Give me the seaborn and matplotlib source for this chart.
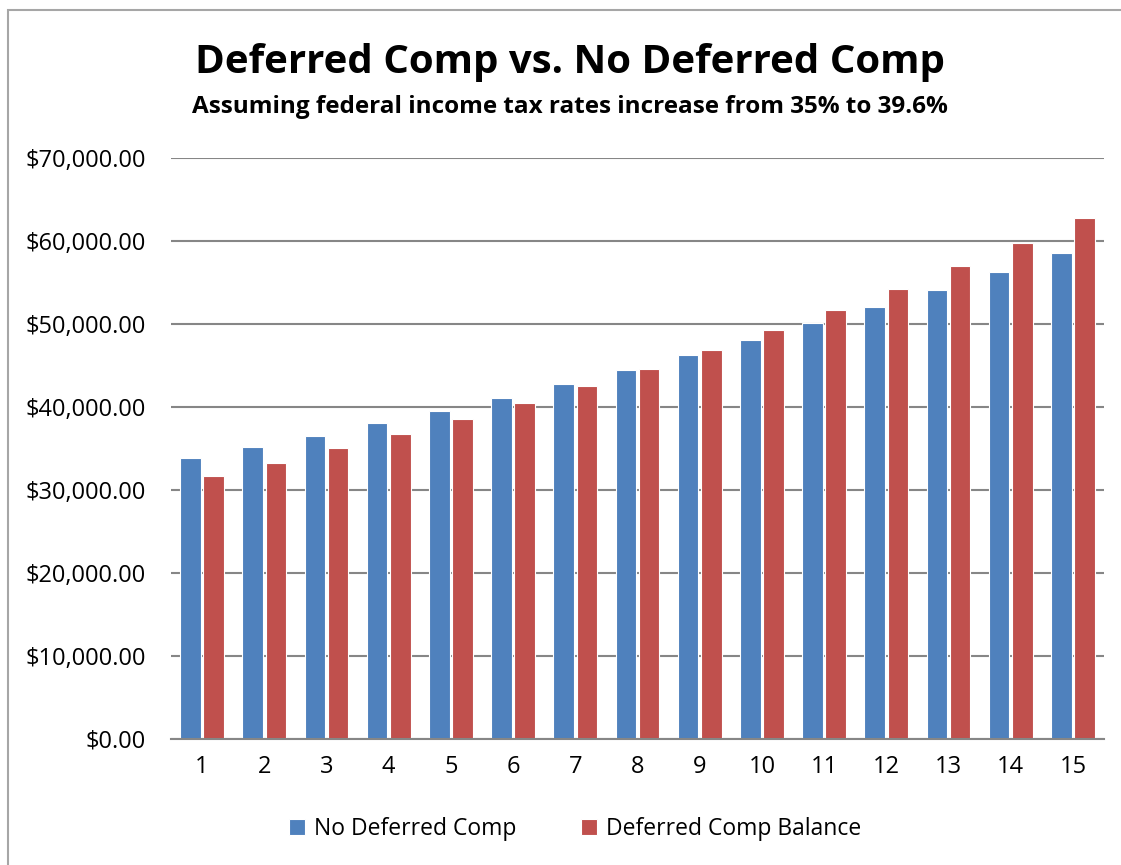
import pandas as pd
import matplotlib.pyplot as plt
import seaborn as sns
from matplotlib.patches import Rectangle
from matplotlib.ticker import FuncFormatter

# --- data ---
years = list(range(1, 16))
no_deferred = [33800, 35150, 36500, 38000, 39500, 41100, 42750, 44450,
               46250, 48100, 50050, 51980, 54060, 56270, 58520]
deferred_balance = [31650, 33250, 34980, 36700, 38520, 40450, 42500, 44580,
                    46800, 49200, 51650, 54220, 56920, 59760, 62730]
series_names = ['No Deferred Comp', 'Deferred Comp Balance']
colors = ['#4F81BD', '#C0504D']

df = pd.DataFrame({
    'Year': years * 2,
    'Value': no_deferred + deferred_balance,
    'Series': [series_names[0]] * len(years) + [series_names[1]] * len(years),
})

sns.set_style("white")
plt.rcParams['font.family'] = ['Open Sans', 'DejaVu Sans']
plt.rcParams['text.color'] = 'black'
plt.rcParams['xtick.color'] = 'black'
plt.rcParams['ytick.color'] = 'black'

fig = plt.figure(figsize=(11.21, 8.65), dpi=100)
ax = fig.add_axes([171 / 1121, 1 - 738.5 / 865, (1104 - 171) / 1121, (738.5 - 158) / 865])

sns.barplot(data=df, x='Year', y='Value', hue='Series', palette=colors,
            width=0.75, gap=0.12, edgecolor='white', linewidth=0.8,
            saturation=1, ax=ax)

ax.set_ylim(0, 70000)
ax.set_yticks(range(0, 70001, 10000))
ax.yaxis.set_major_formatter(FuncFormatter(lambda v, _: f'${v:,.2f}'))
ax.grid(axis='y', color='#868686', linewidth=1.5)
ax.set_axisbelow(True)
for s in ['top', 'right', 'left']:
    ax.spines[s].set_visible(False)
ax.spines['bottom'].set_color('#868686')
ax.spines['bottom'].set_linewidth(1.5)
ax.tick_params(axis='y', length=0, labelsize=17, pad=18)
ax.tick_params(axis='x', length=0, labelsize=17, pad=12)
ax.set_xlabel('')
ax.set_ylabel('')

ax.legend(loc='center', bbox_to_anchor=(575 / 1121, 1 - 829 / 865),
          bbox_transform=fig.transFigure, ncol=2, frameon=False,
          fontsize=16.5, handlelength=0.7, handleheight=0.7,
          handletextpad=0.4, columnspacing=2.8)

fig.text(570 / 1121, 1 - 62 / 865, 'Deferred Comp vs. No Deferred Comp',
         ha='center', va='center', fontsize=29, fontweight='bold')
fig.text(570 / 1121, 1 - 107 / 865,
         'Assuming federal income tax rates increase from 35% to 39.6%',
         ha='center', va='center', fontsize=17.5, fontweight='bold')

# outer chart border (runs off the right and bottom edges)
fig.patches.append(Rectangle((7.5 / 1121, -0.1), 1.2, 1 - 9.5 / 865 + 0.1,
                             transform=fig.transFigure, fill=False,
                             edgecolor='#a6a6a6', linewidth=1.5))

fig.savefig('out.png', dpi=100)
